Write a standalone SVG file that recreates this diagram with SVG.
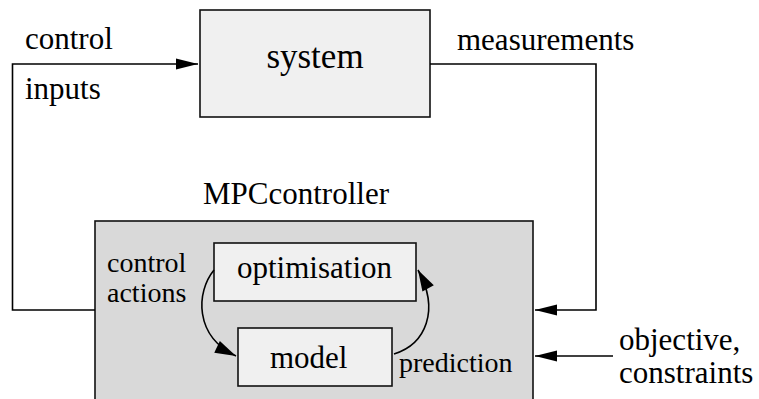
<svg xmlns="http://www.w3.org/2000/svg" width="759" height="399" viewBox="0 0 759 399">
  <style>
    text { fill: #000; }
    .big { font-size: 35px; }
    .lbl { font-size: 31px; }
    .sm { font-size: 28px; }
    .box { stroke: #111; stroke-width: 1.6; }
    .light { fill: #f0f0f0; }
    .mid { fill: #d9d9d9; }
    .wire { fill: none; stroke: #000; stroke-width: 1.6; }
  </style>
  <defs>
    <marker id="arrow" markerUnits="userSpaceOnUse" viewBox="-23 -7 24 14" refX="0" refY="0" markerWidth="24" markerHeight="14" orient="auto">
      <path d="M0,0 L-22,-5.5 L-22,5.5 Z" fill="#000"/>
    </marker>
    <marker id="arrowCurve" markerUnits="userSpaceOnUse" viewBox="-23 -8 24 16" refX="0" refY="0" markerWidth="24" markerHeight="16" orient="auto">
      <path d="M0,0 L-21,-6.5 L-21,6.5 Z" fill="#000"/>
    </marker>
  </defs>

  <rect width="759" height="399" fill="#fff"/>

  <g font-family="'Liberation Serif', 'Times New Roman', Times, serif">
  <g id="controller">
    <rect class="box mid" x="95" y="221" width="438" height="190"/>
    <text class="lbl" x="203" y="204">MPCcontroller</text>
  </g>

  <g id="system">
    <rect class="box light" x="200" y="10" width="230" height="107"/>
    <text class="big" x="315" y="68" text-anchor="middle">system</text>
  </g>

  <g id="optimisation">
    <rect class="box light" x="214" y="243" width="202" height="58"/>
    <text class="lbl" x="237" y="278">optimisation</text>
  </g>

  <g id="model">
    <rect class="box light" x="238" y="328" width="154" height="58"/>
    <text class="lbl" x="270" y="368">model</text>
  </g>

  <g id="connectors">
    <!-- controller output back to the system input -->
    <path class="wire" d="M95,310 L12.5,310 L12.5,64 L198,64" marker-end="url(#arrow)"/>
    <!-- system measurements into the controller -->
    <path class="wire" d="M430,64 L596,64 L596,310 L535,310" marker-end="url(#arrow)"/>
    <!-- objective and constraints into the controller -->
    <path class="wire" d="M613,356 L535,356" marker-end="url(#arrow)"/>
    <!-- internal loop -->
    <path class="wire" d="M214,270 C196,292 194,336 236,356" marker-end="url(#arrowCurve)"/>
    <path class="wire" d="M394,354 C426,344 440,310 418,270" marker-end="url(#arrowCurve)"/>
  </g>

  <g id="labels">
    <text class="lbl" x="25" y="49">control</text>
    <text class="lbl" x="25" y="99">inputs</text>
    <text class="lbl" x="457" y="50">measurements</text>
    <text class="sm" x="107" y="272">control</text>
    <text class="sm" x="107" y="302">actions</text>
    <text class="sm" x="399" y="372">prediction</text>
    <text class="lbl" x="619" y="350">objective,</text>
    <text class="lbl" x="619" y="383">constraints</text>
  </g>
  </g>
</svg>
